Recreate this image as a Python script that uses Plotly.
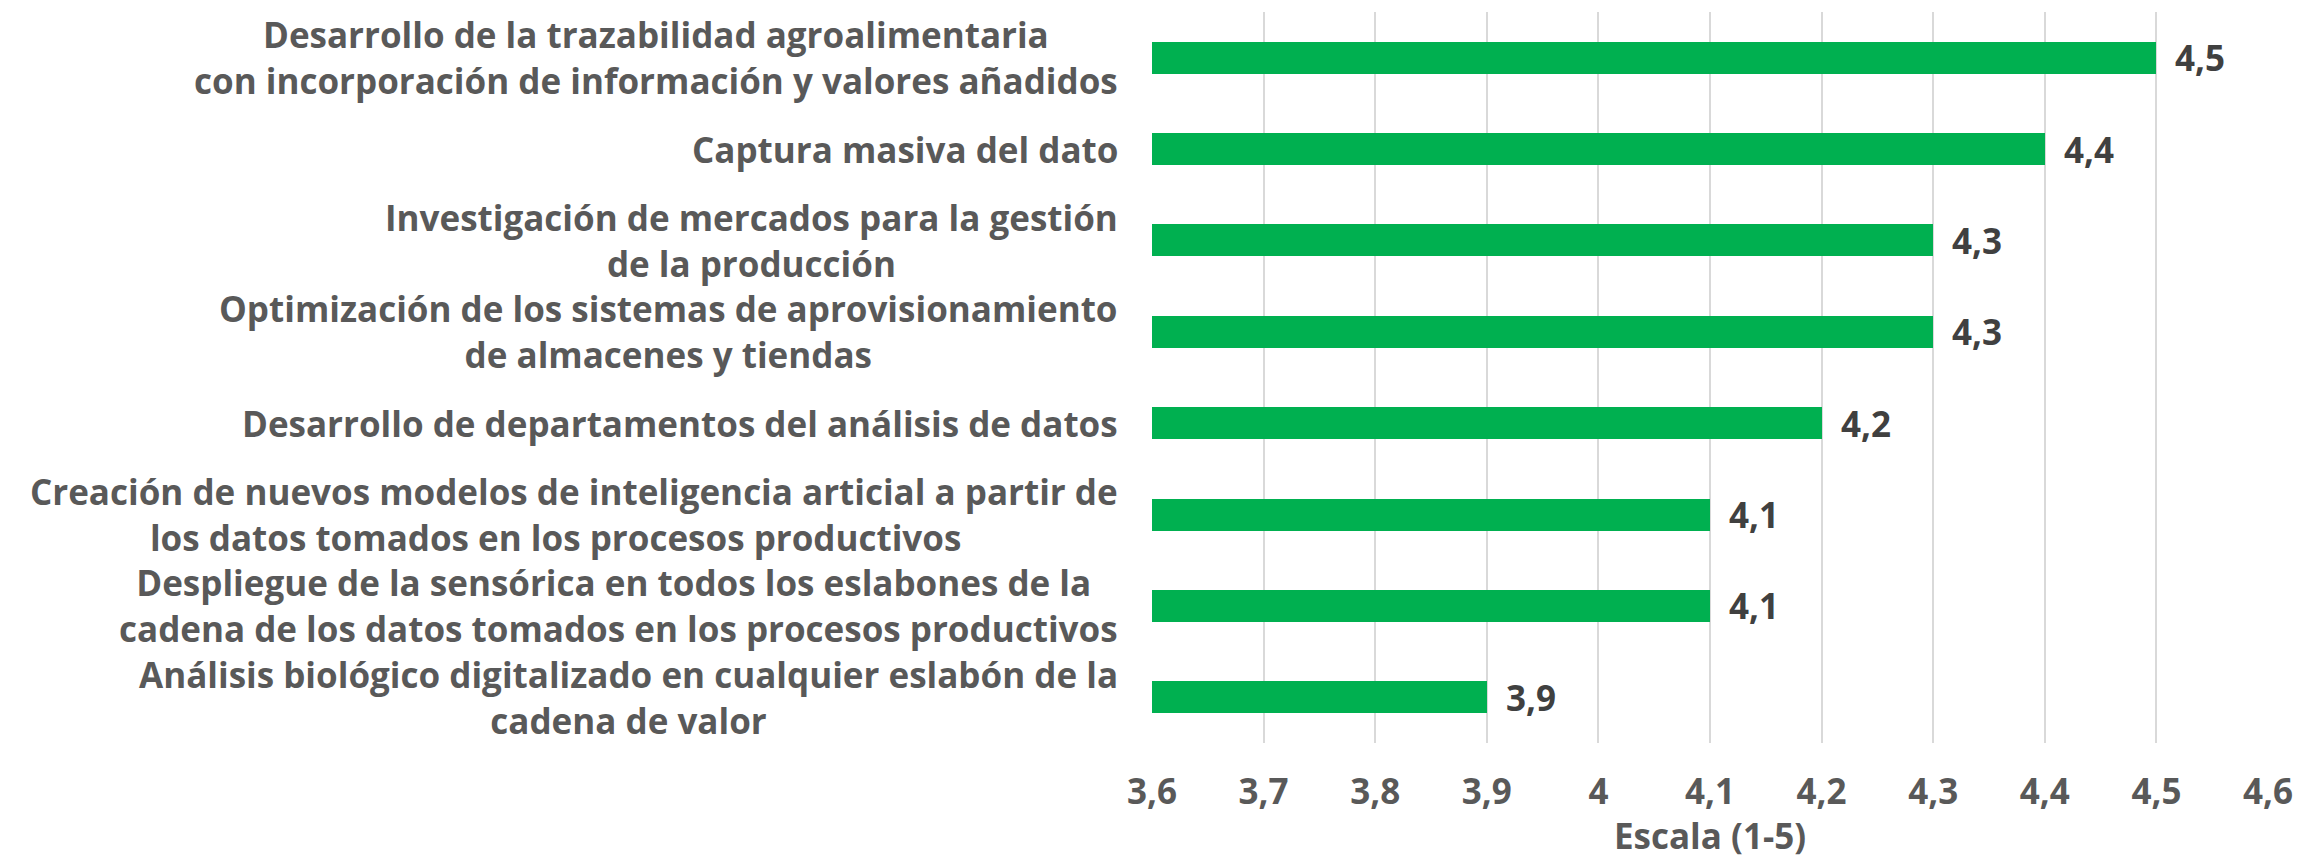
import plotly.graph_objects as go

categories = [
    "Desarrollo de la trazabilidad agroalimentaria<br>con incorporación de información y valores añadidos",
    "Captura masiva del dato",
    "Investigación de mercados para la gestión<br>de la producción",
    "Optimización de los sistemas de aprovisionamiento<br>de almacenes y tiendas",
    "Desarrollo de departamentos del análisis de datos",
    "Creación de nuevos modelos de inteligencia articial a partir de<br>los datos tomados en los procesos productivos\u00a0\u00a0\u00a0\u00a0",
    "Despliegue de la sensórica en todos los eslabones de la\u00a0<br>cadena de los datos tomados en los procesos productivos",
    "Análisis biológico digitalizado en cualquier eslabón de la<br>cadena de valor",
]
values = [4.5, 4.4, 4.3, 4.3, 4.2, 4.1, 4.1, 3.9]
value_labels = ["4,5", "4,4", "4,3", "4,3", "4,2", "4,1", "4,1", "3,9"]
x_ticks = [3.6, 3.7, 3.8, 3.9, 4.0, 4.1, 4.2, 4.3, 4.4, 4.5, 4.6]
x_ticktext = ["3,6", "3,7", "3,8", "3,9", "4", "4,1", "4,2", "4,3", "4,4", "4,5", "4,6"]
x_title = "Escala (1-5)"
x_base = 3.6

FONT = "Open Sans"
LABEL_COLOR = "#595959"
VALUE_COLOR = "#404040"
GREEN = "#00B050"
FS = 35

idx = list(range(len(categories)))

fig = go.Figure()
fig.add_trace(go.Bar(
    x=[v - x_base for v in values],
    y=idx,
    base=x_base,
    orientation="h",
    width=0.35,
    marker=dict(color=GREEN, line=dict(width=0)),
    hoverinfo="skip",
))

annotations = []
for i, (cat, v, lab) in enumerate(zip(categories, values, value_labels)):
    annotations.append(dict(
        x=0, xref="paper", y=i, yref="y",
        text=cat, showarrow=False,
        xanchor="right", yanchor="middle", align="center",
        xshift=-32,
        font=dict(family=FONT, size=FS, color=LABEL_COLOR, weight="bold"),
    ))
    annotations.append(dict(
        x=v, xref="x", y=i, yref="y",
        text=lab, showarrow=False,
        xanchor="left", yanchor="middle",
        xshift=17,
        font=dict(family=FONT, size=FS, color=VALUE_COLOR, weight="bold"),
    ))

fig.update_layout(
    width=2300, height=859, autosize=False,
    margin=dict(l=1152, r=32, t=12, b=116, autoexpand=False),
    paper_bgcolor="white", plot_bgcolor="white",
    showlegend=False,
    bargap=0,
    annotations=annotations,
    xaxis=dict(
        range=[3.6, 4.6],
        tickvals=x_ticks, ticktext=x_ticktext,
        showgrid=True, gridcolor="#D9D9D9", gridwidth=2,
        zeroline=False, showline=False, automargin=False,
        ticks="outside", ticklen=18, tickcolor="rgba(0,0,0,0)",
        tickfont=dict(family=FONT, size=FS, color=LABEL_COLOR, weight="bold"),
        title=dict(text=x_title, standoff=9,
                   font=dict(family=FONT, size=FS, color=LABEL_COLOR, weight="bold")),
    ),
    yaxis=dict(
        range=[len(categories) - 0.5, -0.5],
        showticklabels=False, showgrid=False, zeroline=False, showline=False,
        ticks="", automargin=False,
    ),
)

fig.write_html(
    "out.html",
    config={"displayModeBar": False},
    post_script="document.body.style.margin='0';document.body.style.overflow='hidden';",
)
